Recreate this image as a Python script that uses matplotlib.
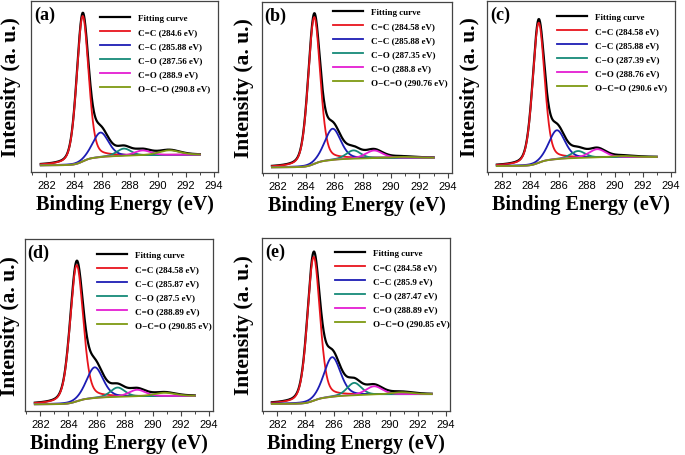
import matplotlib
matplotlib.use('Agg')
import matplotlib.pyplot as plt
from matplotlib.ticker import MultipleLocator
import numpy as np

plt.rcParams['font.family'] = ['Liberation Serif', 'DejaVu Serif']

# binding energy range of the scans
e_lo, e_hi = 281.6, 293.0

names = ['C=C', 'C\u2212C', 'C\u2212O', 'C=O', 'O\u2212C=O']
colors = ['#e8141c', '#1c1cb4', '#168a78', '#e41ed2', '#7e9a12']
panels = ['(a)', '(b)', '(c)', '(d)', '(e)']

# peak positions (eV), from the legends
centers_a = [284.6, 285.88, 287.56, 288.9, 290.8]
centers_b = [284.58, 285.88, 287.35, 288.8, 290.76]
centers_c = [284.58, 285.88, 287.39, 288.76, 290.6]
centers_d = [284.58, 285.87, 287.5, 288.89, 290.85]
centers_e = [284.58, 285.9, 287.47, 288.89, 290.85]

# peak heights above background (a.u.)
heights_a = [438, 74, 22, 15, 14]
heights_b = [442, 94, 25, 23, 3]
heights_c = [422, 87, 21, 25, 3.5]
heights_d = [408, 92, 28, 20, 10]
heights_e = [428, 118, 37, 25, 6]

# FWHM (eV)
fwhm_a = [1.0, 1.35, 1.2, 1.4, 1.8]
fwhm_b = [1.0, 1.35, 1.2, 1.4, 1.8]
fwhm_c = [1.0, 1.35, 1.2, 1.4, 1.8]
fwhm_d = [1.1, 1.4, 1.2, 1.4, 1.8]
fwhm_e = [1.05, 1.4, 1.2, 1.4, 1.8]

# background level at low / high binding energy end
bg_a = [20, 52]
bg_b = [17, 46]
bg_c = [18, 45]
bg_d = [20, 45]
bg_e = [21, 50]

centers = [centers_a, centers_b, centers_c, centers_d, centers_e]
heights = [heights_a, heights_b, heights_c, heights_d, heights_e]
fwhms = [fwhm_a, fwhm_b, fwhm_c, fwhm_d, fwhm_e]
bgs = [bg_a, bg_b, bg_c, bg_d, bg_e]

# axes boxes in pixels: left, right, top, bottom
boxes = [(31, 218, 2, 173), (262, 452, 3, 174), (487, 675, 2, 173),
         (25, 213, 240, 412), (262, 450, 239, 412)]
leg_x = [0.369, 0.374, 0.372, 0.383, 0.388]
leg_top = [18, 11, 17, 17, 16]
ylab_off = [20, 17.5, 16.5, 15, 17.5]


def gl(x, c, h, w, m=0.3):
    u = (x - c) / w
    return h * ((1 - m) * np.exp(-4 * np.log(2) * u**2) + m / (1 + 4 * u**2))


W, H = 685, 456
fig = plt.figure(figsize=(W / 100, H / 100), dpi=100)
x = np.linspace(e_lo, e_hi, 600)

for i in range(5):
    l, r, t, b = boxes[i]
    ax = fig.add_axes([l / W, 1 - b / H, (r - l) / W, (b - t) / H])
    comps = [gl(x, c, h, w) for c, h, w in zip(centers[i], heights[i], fwhms[i])]
    total = np.sum(comps, axis=0)
    cum = np.cumsum(total)
    bg = bgs[i][0] + (bgs[i][1] - bgs[i][0]) * cum / cum[-1]

    ax.plot(x, total + bg, color='black', lw=1.6, label='Fitting curve')
    for k in range(5):
        ax.plot(x, comps[k] + bg, color=colors[k], lw=1.3,
                label=f'{names[k]} ({centers[i][k]} eV)')

    ax.set_xlim(280.9, 294.3)
    ax.set_ylim(0, 515)
    ax.set_yticks([])
    ax.xaxis.set_major_locator(MultipleLocator(2))
    ax.xaxis.set_minor_locator(MultipleLocator(1))
    ax.tick_params(axis='x', which='major', direction='out', length=3.5,
                   width=0.8, color='#444444', pad=2, labelsize=8)
    ax.tick_params(axis='x', which='minor', direction='out', length=2.2,
                   width=0.7, color='#444444')
    for lab in ax.get_xticklabels():
        lab.set_family(['Liberation Sans', 'DejaVu Sans'])
    for s in ax.spines.values():
        s.set_color('#444444')
        s.set_linewidth(0.9)

    ax.set_xlabel('Binding Energy (eV)', fontsize=14.5, fontweight='bold',
                  labelpad=3)
    ax.set_ylabel('Intensity (a. u.)', fontsize=15.5, fontweight='bold',
                  va='center')
    ax.yaxis.set_label_coords(-ylab_off[i] / (r - l), 0.5)

    ax.text(0.072, 1 - 13 / (b - t), panels[i], transform=ax.transAxes,
            ha='center', va='center', fontsize=13, fontweight='bold')

    ax.legend(loc='upper left',
              bbox_to_anchor=(leg_x[i], 1 - (leg_top[i] - 5) / (b - t)),
              frameon=False, handlelength=3.3,
              handletextpad=0.9, labelspacing=0.62, borderpad=0,
              borderaxespad=0, prop={'weight': 'bold', 'size': 6.5})

plt.savefig('out.png', dpi=100)
